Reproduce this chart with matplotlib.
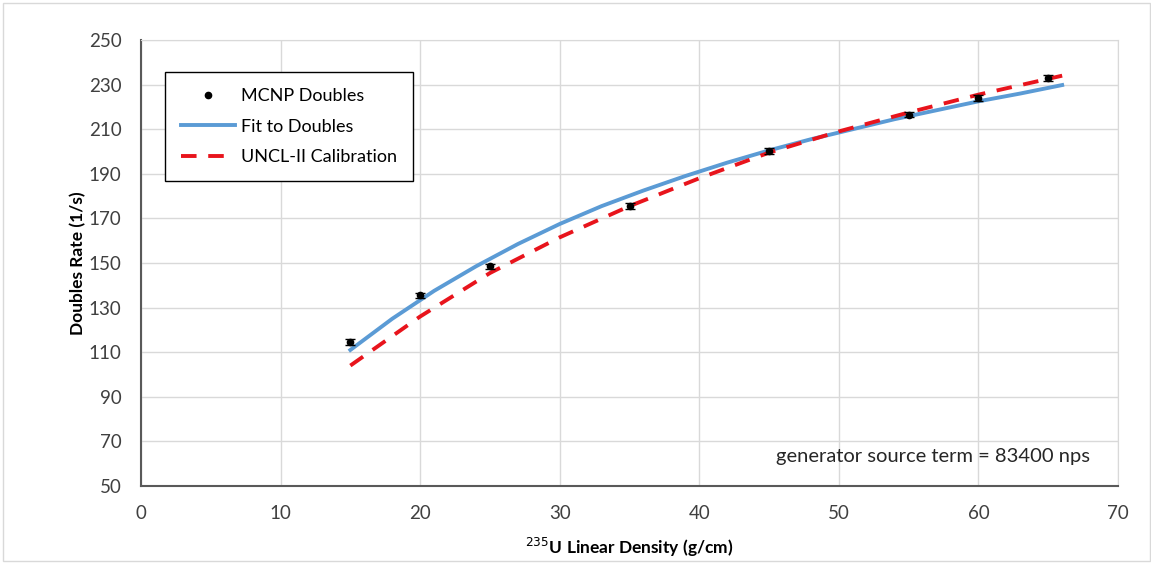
import matplotlib
matplotlib.use("Agg")
import matplotlib.pyplot as plt
from matplotlib.patches import Rectangle
from matplotlib.lines import Line2D

# Data
mcnp_x = [15, 20, 25, 35, 45, 55, 60, 65]
mcnp_y = [114.5, 135.5, 148.5, 175.5, 200.2, 216.5, 224.0, 233.0]
mcnp_err = [1.2, 1.2, 1.2, 1.2, 1.2, 1.2, 1.2, 1.2]

fit_x = [15, 18, 21, 24, 27, 30, 33, 36, 39, 42, 45, 48, 51, 54, 57, 60, 63, 66]
fit_y = [111.0, 125.0, 137.5, 148.5, 158.5, 167.5, 175.5, 182.5, 189.0, 195.0, 200.5, 205.5, 210.0, 214.5, 218.5, 222.5, 226.0, 229.8]

cal_x = [15, 20, 25, 30, 35, 40, 45, 50, 55, 60, 66]
cal_y = [104.0, 126.0, 145.5, 161.5, 175.5, 188.0, 199.5, 209.0, 217.5, 225.5, 234.0]

xticks = [0, 10, 20, 30, 40, 50, 60, 70]
yticks = [50, 70, 90, 110, 130, 150, 170, 190, 210, 230, 250]

plt.rcParams['font.family'] = ['Lato', 'DejaVu Sans']

fig = plt.figure(figsize=(11.51, 5.64), dpi=100)
ax = fig.add_axes([141/1151, 1 - 486/564, (1118-141)/1151, (486-40)/564])

l_fit, = ax.plot(fit_x, fit_y, color='#5B9BD5', lw=2.8, zorder=3)
l_cal, = ax.plot(cal_x, cal_y, color='#E8141C', lw=2.8, ls=(0, (4, 3)), zorder=4)
ax.errorbar(mcnp_x, mcnp_y, yerr=mcnp_err, fmt='o', color='black', ms=4.5,
            elinewidth=1, capsize=3.5, capthick=1, zorder=5)

ax.set_xlim(0, 70)
ax.set_ylim(50, 250)
ax.set_xticks(xticks)
ax.set_yticks(yticks)
ax.grid(True, color='#D9D9D9', lw=1)
ax.set_axisbelow(True)
for s in ['top', 'right']:
    ax.spines[s].set_color('#D9D9D9')
for s in ['left', 'bottom']:
    ax.spines[s].set_color('#595959')
    ax.spines[s].set_linewidth(1.5)
ax.tick_params(length=0, labelsize=13.5, colors='#404040')
ax.tick_params(axis='x', pad=14)
ax.tick_params(axis='y', pad=14)

ax.set_xlabel(r'$^{235}$U Linear Density (g/cm)', fontsize=12.5, fontweight='bold', labelpad=10)
ax.set_ylabel('Doubles Rate (1/s)', fontsize=12.5, fontweight='bold', labelpad=2)

h_mcnp = Line2D([], [], ls='none', marker='o', color='black', ms=4.5)
leg = ax.legend([h_mcnp, l_fit, l_cal], ['MCNP Doubles', 'Fit to Doubles', 'UNCL-II Calibration'],
                loc='upper left', bbox_to_anchor=((165-141)/977, 1 - (72-40)/446),
                borderaxespad=0, fontsize=13, frameon=True,
                fancybox=False, edgecolor='black', framealpha=1, handlelength=3.0,
                borderpad=0.9, labelspacing=0.8, handletextpad=0.3)
leg.get_frame().set_linewidth(1.0)

ax.text((1090-141)/977, 0.067, 'generator source term = 83400 nps', transform=ax.transAxes,
        ha='right', va='center', fontsize=14.5, color='#262626')

fig.patches.append(Rectangle((3/1151, 3/564), 1 - 4/1151, 1 - 6/564, transform=fig.transFigure,
                             fill=False, edgecolor='#D9D9D9', lw=1))

fig.savefig('out.png', dpi=100)
